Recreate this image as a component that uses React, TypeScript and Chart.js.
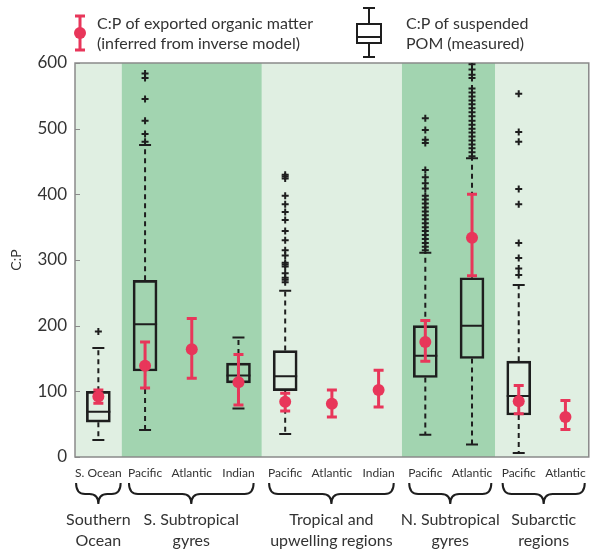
import React, { useEffect, useRef } from 'react';
import { Chart, registerables } from 'chart.js';

Chart.register(...registerables);

// ---------- data ----------
const categories = ['S. Ocean', 'Pacific', 'Atlantic', 'Indian', 'Pacific', 'Atlantic', 'Indian', 'Pacific', 'Atlantic', 'Pacific', 'Atlantic'];

// suspended POM box plots (null = no measurement)
const boxQ1 = [53, 131, null, 113, 101, null, null, 121, 150, 64, null];
const boxMedian = [69, 202, null, 124, 123, null, null, 154, 200, 93, null];
const boxQ3 = [100, 269, null, 143, 162, null, null, 200, 273, 146, null];
const whiskerLow = [26, 41, null, 74, 35, null, null, 34, 19, 6, null];
const whiskerHigh = [166, 475, null, 182, 253, null, null, 311, 455, 262, null];

const outliersSOcean = [191];
const outliersSSubPacific = [480, 492, 512, 545, 577, 584];
const outliersTropPacific = [266, 270, 273, 280, 290, 293, 296, 307, 315, 330, 344, 361, 373, 385, 398, 424, 427, 430];
const outliersNSubPacific = [315, 320, 326, 332, 338, 344, 350, 356, 362, 368, 374, 380, 386, 392, 398, 409, 417, 426, 437, 478, 483, 498, 516];
const outliersNSubAtlantic = [458, 464, 470, 476, 482, 488, 494, 500, 506, 512, 519, 525, 531, 537, 543, 549, 555, 561, 577, 582, 590, 598];
const outliersSubarcticPacific = [277, 287, 303, 326, 385, 408, 480, 495, 553];
const outlierSets = [
  { idx: 0, values: outliersSOcean },
  { idx: 1, values: outliersSSubPacific },
  { idx: 4, values: outliersTropPacific },
  { idx: 7, values: outliersNSubPacific },
  { idx: 8, values: outliersNSubAtlantic },
  { idx: 9, values: outliersSubarcticPacific },
];

// exported organic matter C:P (inverse model)
const exportMean = [92, 139, 164, 114, 84, 81, 102, 175, 334, 85, 61];
const exportLow = [82, 105, 120, 79, 70, 61, 76, 146, 276, 66, 42];
const exportHigh = [102, 175, 211, 156, 97, 102, 132, 208, 400, 109, 86];

const yTicks = [0, 100, 200, 300, 400, 500, 600];

const groupLines = [
  ['Southern', 'Ocean'],
  ['S. Subtropical', 'gyres'],
  ['Tropical and', 'upwelling regions'],
  ['N. Subtropical', 'gyres'],
  ['Subarctic', 'regions'],
];
const groupSizes = [1, 3, 3, 2, 2];

const legendExport = ['C:P of exported organic matter', '(inferred from inverse model)'];
const legendPOM = ['C:P of suspended', 'POM (measured)'];

// ---------- style ----------
const FONT = 'Lato, "Open Sans", sans-serif';
const RED = '#e8365a';
const INK = '#1e1e1e';
const TEXT = '#333333';
const LIGHT = '#e0efe2';
const DARK = '#a2d4b0';
const FRAME = '#8a8a8a';

function groupStarts() {
  const s: number[] = [];
  let acc = 0;
  for (const n of groupSizes) { s.push(acc); acc += n; }
  return s;
}

const decorPlugin = {
  id: 'decor',
  beforeDatasetsDraw(chart: any) {
    const { ctx, chartArea: ca, scales } = chart;
    const x = scales.x, y = scales.y;
    const step = x.getPixelForValue(1) - x.getPixelForValue(0);
    ctx.save();
    // bands
    groupStarts().forEach((s, g) => {
      const n = groupSizes[g];
      const l = Math.max(ca.left, x.getPixelForValue(s) - step / 2);
      const r = Math.min(ca.right, x.getPixelForValue(s + n - 1) + step / 2);
      ctx.fillStyle = g % 2 === 0 ? LIGHT : DARK;
      ctx.fillRect(l, ca.top, r - l, ca.bottom - ca.top);
    });
    // frame
    ctx.strokeStyle = FRAME;
    ctx.lineWidth = 1.5;
    ctx.strokeRect(ca.left, ca.top, ca.right - ca.left, ca.bottom - ca.top);
    // inner y ticks
    ctx.lineWidth = 1;
    yTicks.forEach((t) => {
      const py = Math.round(y.getPixelForValue(t)) + 0.5;
      ctx.beginPath();
      ctx.moveTo(ca.left, py);
      ctx.lineTo(ca.left + 5, py);
      ctx.stroke();
    });
    // whiskers & medians
    ctx.strokeStyle = INK;
    ctx.lineWidth = 2;
    categories.forEach((_, i) => {
      if (boxQ1[i] == null) return;
      const px = x.getPixelForValue(i);
      const half = 12;
      const capHalf = 6;
      ctx.setLineDash([5, 4]);
      ctx.beginPath();
      ctx.moveTo(px, y.getPixelForValue(boxQ3[i] as number));
      ctx.lineTo(px, y.getPixelForValue(whiskerHigh[i] as number));
      ctx.moveTo(px, y.getPixelForValue(boxQ1[i] as number));
      ctx.lineTo(px, y.getPixelForValue(whiskerLow[i] as number));
      ctx.stroke();
      ctx.setLineDash([]);
      ctx.beginPath();
      const yh = y.getPixelForValue(whiskerHigh[i] as number);
      const yl = y.getPixelForValue(whiskerLow[i] as number);
      const ym = y.getPixelForValue(boxMedian[i] as number);
      ctx.moveTo(px - capHalf, yh); ctx.lineTo(px + capHalf, yh);
      ctx.moveTo(px - capHalf, yl); ctx.lineTo(px + capHalf, yl);
      ctx.moveTo(px - half, ym); ctx.lineTo(px + half, ym);
      ctx.stroke();
    });
    ctx.restore();
  },
  afterDatasetsDraw(chart: any) {
    const { ctx, scales } = chart;
    const x = scales.x, y = scales.y;
    ctx.save();
    ctx.strokeStyle = RED;
    ctx.lineWidth = 3;
    categories.forEach((_, i) => {
      const px = x.getPixelForValue(i);
      const yh = y.getPixelForValue(exportHigh[i]);
      const yl = y.getPixelForValue(exportLow[i]);
      ctx.beginPath();
      ctx.moveTo(px, yh); ctx.lineTo(px, yl);
      ctx.moveTo(px - 5, yh); ctx.lineTo(px + 5, yh);
      ctx.moveTo(px - 5, yl); ctx.lineTo(px + 5, yl);
      ctx.stroke();
    });
    ctx.restore();
  },
  afterDraw(chart: any) {
    const { ctx, scales } = chart;
    const x = scales.x;
    ctx.save();
    // braces and group labels
    groupStarts().forEach((s, g) => {
      const e = s + groupSizes[g] - 1;
      ctx.font = `12px ${FONT}`;
      const x0 = x.getPixelForValue(s) - ctx.measureText(categories[s]).width / 2 + 1;
      const x1 = x.getPixelForValue(e) + ctx.measureText(categories[e]).width / 2 - 1;
      const cx = (x0 + x1) / 2;
      const yTop = 483, yMid = 494, yTip = 504;
      ctx.strokeStyle = INK;
      ctx.lineWidth = 2;
      ctx.beginPath();
      ctx.moveTo(x0, yTop);
      ctx.quadraticCurveTo(x0, yMid, x0 + 9, yMid);
      ctx.lineTo(cx - 9, yMid);
      ctx.quadraticCurveTo(cx, yMid, cx, yTip);
      ctx.quadraticCurveTo(cx, yMid, cx + 9, yMid);
      ctx.lineTo(x1 - 9, yMid);
      ctx.quadraticCurveTo(x1, yMid, x1, yTop);
      ctx.stroke();
      ctx.fillStyle = TEXT;
      ctx.font = `16px ${FONT}`;
      ctx.textAlign = 'center';
      ctx.textBaseline = 'alphabetic';
      ctx.fillText(groupLines[g][0], cx, 525);
      ctx.fillText(groupLines[g][1], cx, 546);
    });
    // legend: exported organic matter
    ctx.strokeStyle = RED;
    ctx.lineWidth = 3;
    ctx.beginPath();
    ctx.moveTo(80, 16); ctx.lineTo(80, 50);
    ctx.moveTo(75, 16); ctx.lineTo(85, 16);
    ctx.moveTo(75, 50); ctx.lineTo(85, 50);
    ctx.stroke();
    ctx.fillStyle = RED;
    ctx.beginPath();
    ctx.arc(80, 33, 6, 0, Math.PI * 2);
    ctx.fill();
    ctx.fillStyle = TEXT;
    ctx.font = `16px ${FONT}`;
    ctx.textAlign = 'left';
    ctx.textBaseline = 'alphabetic';
    ctx.fillText(legendExport[0], 97, 29);
    ctx.fillText(legendExport[1], 97, 49);
    // legend: POM box
    ctx.strokeStyle = INK;
    ctx.lineWidth = 2;
    ctx.beginPath();
    ctx.moveTo(369, 8); ctx.lineTo(369, 24);
    ctx.moveTo(369, 43); ctx.lineTo(369, 57);
    ctx.moveTo(363, 8); ctx.lineTo(375, 8);
    ctx.moveTo(363, 57); ctx.lineTo(375, 57);
    ctx.moveTo(357, 37); ctx.lineTo(381, 37);
    ctx.stroke();
    ctx.strokeRect(357, 24, 24, 19);
    ctx.fillText(legendPOM[0], 406, 29);
    ctx.fillText(legendPOM[1], 406, 49);
    ctx.restore();
  },
};

export default function App() {
  const ref = useRef<HTMLCanvasElement>(null);
  useEffect(() => {
    const canvas = ref.current as HTMLCanvasElement;
    // one point-only dataset per outlier rank, indexed by category
    const maxOut = Math.max(...outlierSets.map((o) => o.values.length));
    const outlierDatasets: any[] = [];
    for (let k = 0; k < maxOut; k++) {
      outlierDatasets.push({
        type: 'line',
        label: 'outliers' + k,
        data: categories.map((_, i) => {
          const set = outlierSets.find((o) => o.idx === i);
          return set && set.values[k] != null ? set.values[k] : null;
        }),
        showLine: false,
        pointStyle: 'cross',
        pointRadius: 3.5,
        borderWidth: 2,
        borderColor: INK,
        backgroundColor: INK,
        order: 1,
      });
    }
    const chart = new Chart(canvas, {
      type: 'bar',
      data: {
        labels: categories,
        datasets: [
          {
            type: 'line',
            label: 'exported',
            data: exportMean,
            showLine: false,
            pointRadius: 6,
            pointBorderWidth: 0,
            pointBackgroundColor: RED,
            borderColor: RED,
            order: 0,
          } as any,
          ...outlierDatasets,
          {
            type: 'bar',
            label: 'POM',
            data: boxQ1.map((v, i) => (v == null ? null : [v, boxQ3[i] as number])),
            backgroundColor: 'rgba(0,0,0,0)',
            borderColor: INK,
            borderWidth: 2,
            borderSkipped: false,
            barThickness: 24,
            grouped: false,
            order: 2,
          } as any,
        ],
      },
      options: {
        animation: false,
        responsive: false,
        events: [],
        layout: { padding: { top: 63, right: 3, left: 0, bottom: 0 } },
        plugins: { legend: { display: false }, tooltip: { enabled: false } },
        scales: {
          x: {
            type: 'category',
            offset: true,
            grid: { display: false, drawTicks: false },
            border: { display: false },
            ticks: {
              autoSkip: false,
              maxRotation: 0,
              padding: 9,
              color: TEXT,
              font: { family: FONT, size: 12 },
            },
            afterFit: (s: any) => { s.height = 94; },
          },
          y: {
            min: 0,
            max: 600,
            grid: { display: false, drawTicks: false },
            border: { display: false },
            ticks: {
              stepSize: 100,
              padding: 8,
              color: TEXT,
              font: { family: FONT, size: 17 },
            },
            title: {
              display: true,
              text: 'C:P',
              color: TEXT,
              font: { family: FONT, size: 14 },
              padding: { top: 8, bottom: 0 },
            },
            afterFit: (s: any) => { s.width = 75; },
          },
        },
      },
      plugins: [decorPlugin],
    } as any);
    return () => chart.destroy();
  }, []);
  return (
    <div style={{ position: 'absolute', left: 0, top: 0, width: 595, height: 551 }}>
      <canvas ref={ref} width={595} height={551} style={{ width: 595, height: 551, display: 'block' }} />
    </div>
  );
}
